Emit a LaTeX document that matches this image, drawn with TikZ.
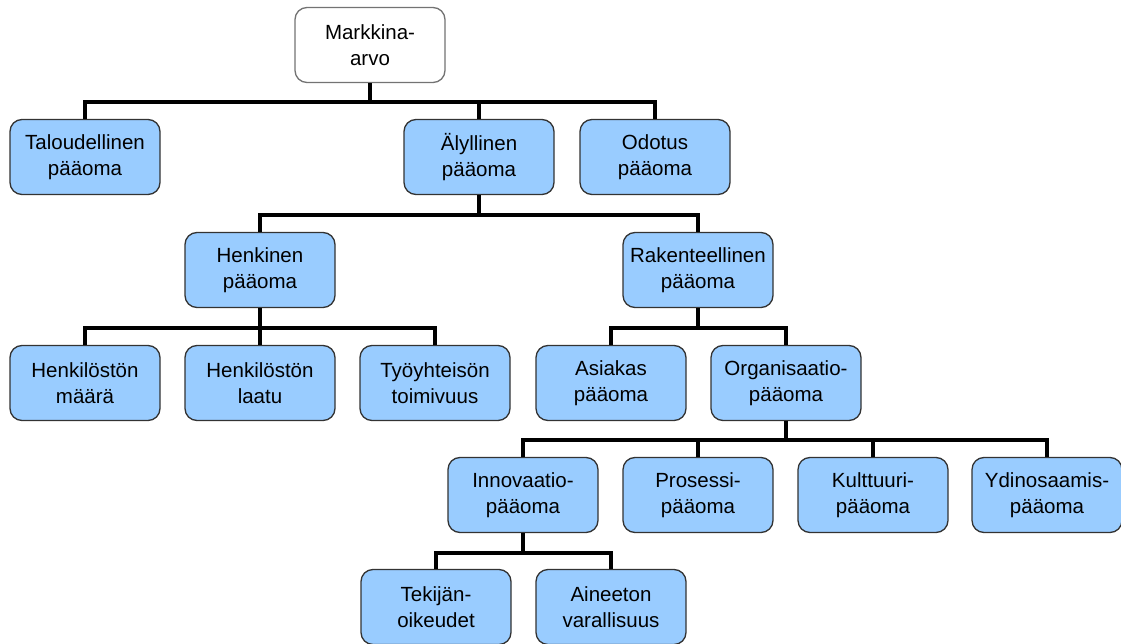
\documentclass[tikz,border=0pt]{standalone}
\usepackage{fontspec}
\setmainfont{Liberation Sans}
\usetikzlibrary{positioning, calc}
\definecolor{boxblue}{HTML}{99CCFF}
\definecolor{boxline}{HTML}{333333}

\begin{document}
\begin{tikzpicture}[x=1pt, y=-1pt,
  box/.style={draw=boxline, line width=1.3pt, fill=boxblue, rounded corners=12pt,
    minimum width=150pt, minimum height=75pt, align=center, inner sep=0pt,
    font=\fontsize{20.5}{26}\selectfont},
  rootbox/.style={box, fill=white, draw=black!55},
  link/.style={line width=4pt, black}]
\useasboundingbox (0,0) rectangle (1121,644);

% Top level
\node[rootbox] (mark) at (370,45) {Markkina-\\arvo};
\node[box] (tal) at (85,157) {Taloudellinen\\pääoma};
\node[box] (aly) at (479,157) {Älyllinen\\pääoma};
\node[box] (odo) at (655,157) {Odotus\\pääoma};

% Intellectual capital
\node[box] (henk) at (260,270) {Henkinen\\pääoma};
\node[box] (rak) at (698,270) {Rakenteellinen\\pääoma};

% Human capital
\node[box] (maara) at (85,383) {Henkilöstön\\määrä};
\node[box] (laatu) at (260,383) {Henkilöstön\\laatu};
\node[box] (toim) at (435,383) {Työyhteisön\\toimivuus};

% Structural capital
\node[box] (asi) at (611,383) {Asiakas\\pääoma};
\node[box] (org) at (786,383) {Organisaatio-\\pääoma};

% Organisational capital
\node[box] (inno) at (523,495) {Innovaatio-\\pääoma};
\node[box] (pros) at (698,495) {Prosessi-\\pääoma};
\node[box] (kult) at (873,495) {Kulttuuri-\\pääoma};
\node[box] (ydin) at (1047,495) {Ydinosaamis-\\pääoma};

% Innovation capital
\node[box] (tek) at (436,607) {Tekijän-\\oikeudet};
\node[box] (ain) at (611,607) {Aineeton\\varallisuus};

% Bar levels
\coordinate (b1) at (0,102);
\coordinate (b2) at (0,215);
\coordinate (b3) at (0,328);
\coordinate (b4) at (0,440);
\coordinate (b5) at (0,553);

% Connectors
\foreach \c in {tal,aly,odo}
  \draw[link] (mark.south) -- (mark |- b1) -| (\c.north);
\foreach \c in {henk,rak}
  \draw[link] (aly.south) -- (aly |- b2) -| (\c.north);
\foreach \c in {maara,laatu,toim}
  \draw[link] (henk.south) -- (henk |- b3) -| (\c.north);
\foreach \c in {asi,org}
  \draw[link] (rak.south) -- (rak |- b3) -| (\c.north);
\foreach \c in {inno,pros,kult,ydin}
  \draw[link] (org.south) -- (org |- b4) -| (\c.north);
\foreach \c in {tek,ain}
  \draw[link] (inno.south) -- (inno |- b5) -| (\c.north);
\end{tikzpicture}
\end{document}
